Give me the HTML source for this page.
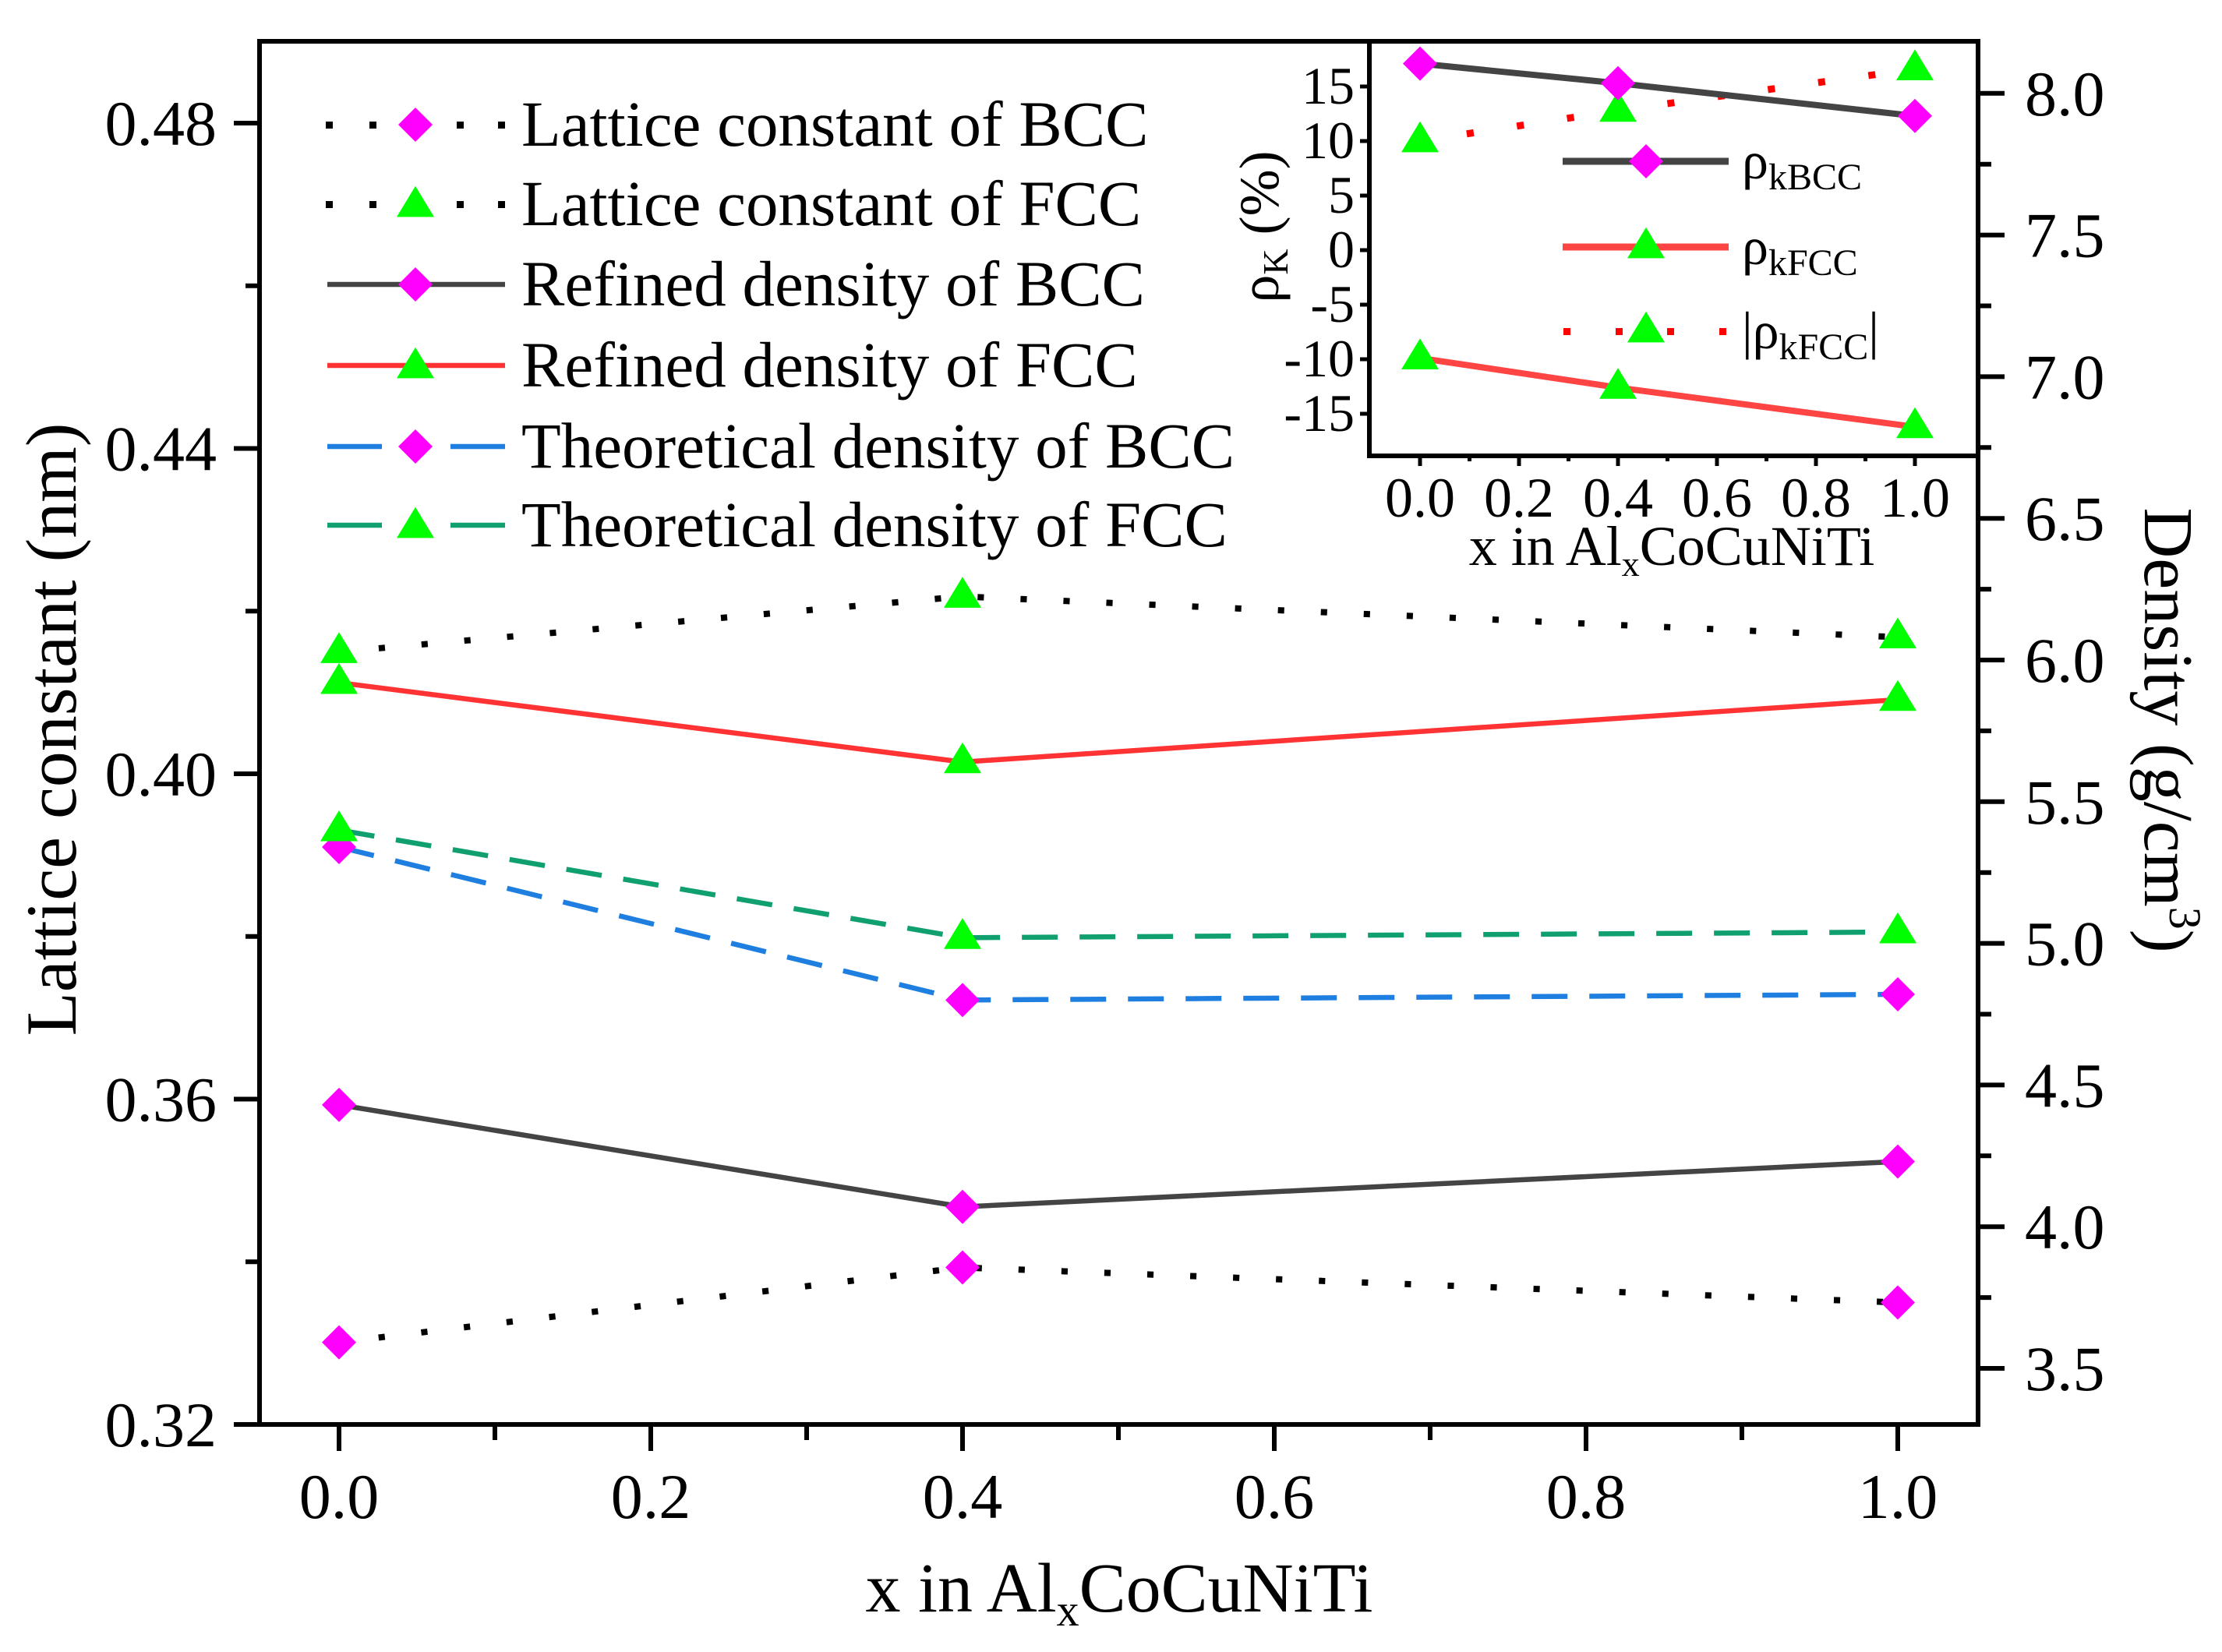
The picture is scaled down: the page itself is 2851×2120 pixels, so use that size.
<!DOCTYPE html>
<html><head><meta charset="utf-8"><style>
html,body{margin:0;padding:0;background:#fff;}
svg{display:block;font-family:"Liberation Serif",serif;}
</style></head><body>
<svg id="chart" width="2851" height="2120" viewBox="0 0 2851 2120" xmlns="http://www.w3.org/2000/svg">
<g id="main"></g>
<g id="inset"></g>
</svg>
<script>
// main chart data
const xCats = [0, 0.4, 1.0];
const latticeBCC = [0.3301, 0.3393, 0.3350];
const latticeFCC = [0.4150, 0.4218, 0.4168];
const refinedBCC = [4.43, 4.07, 4.23];
const refinedFCC = [5.92, 5.64, 5.86];
const theoBCC = [5.34, 4.80, 4.82];
const theoFCC = [5.40, 5.02, 5.04];
const xTicks = ["0.0","0.2","0.4","0.6","0.8","1.0"];
const leftTicks = ["0.32","0.36","0.40","0.44","0.48"];
const rightTicks = ["3.5","4.0","4.5","5.0","5.5","6.0","6.5","7.0","7.5","8.0"];
// inset data
const rhoBCC = [17.1, 15.3, 12.3];
const rhoFCC = [-9.9, -12.6, -16.2];
const rhoFCCabs = [10.0, 12.8, 16.6];
const insetYTicks = ["-15","-10","-5","0","5","10","15"];
const insetXTicks = ["0.0","0.2","0.4","0.6","0.8","1.0"];

const NS = "http://www.w3.org/2000/svg";
function mk(parent, tag, attrs, text){
  const e = document.createElementNS(NS, tag);
  for (const k in attrs) e.setAttribute(k, attrs[k]);
  if (text !== undefined) e.textContent = text;
  parent.appendChild(e);
  return e;
}
const X = v => 435 + v * 2000;
const YL = v => 1828 - (v - 0.32) * 10437.5;
const YR = v => 1756 - (v - 3.5) * 363.6;
const IX = v => 1822 + v * 635;
const IY = v => 321 - v * 14;

const main = document.getElementById('main');
const inset = document.getElementById('inset');

function diamond(g, cx, cy, r, name){
  const p = mk(g, 'polygon', {points:`${cx},${cy-r} ${cx+r},${cy} ${cx},${cy+r} ${cx-r},${cy}`, fill:'#ff00ff'});
  
  
  return p;
}
function tri(g, cx, cy, r, name){
  const p = mk(g, 'polygon', {points:`${cx},${cy-r*1.05} ${cx+r},${cy+r*0.6} ${cx-r},${cy+r*0.6}`, fill:'#00ff00'});
  
  
  return p;
}
function series(g, vals, sx, sy, stroke, dash, width, marker, r, name, cap){
  const pts = vals.map((v,i)=>`${sx(xCats[i])},${sy(v)}`).join(' ');
  const l = mk(g, 'polyline', {points:pts, fill:'none', stroke:stroke, 'stroke-width':width, 'stroke-dasharray':dash, 'stroke-linecap': cap||'butt'});
  
  
  vals.forEach((v,i)=>{
    if (marker==='d') diamond(g, sx(xCats[i]), sy(v), r, name + '-point');
    else tri(g, sx(xCats[i]), sy(v), r, name + '-point');
  });
}

series(main, latticeBCC, X, YL, '#000', '0.1 55', 8, 'd', 22, 'lattice-bcc', 'square');
series(main, latticeFCC, X, YL, '#000', '0.1 55', 8, 't', 24, 'lattice-fcc', 'square');
series(main, refinedBCC, X, YR, '#444', 'none', 6.5, 'd', 22, 'refined-bcc');
series(main, refinedFCC, X, YR, '#ff3333', 'none', 6.5, 't', 24, 'refined-fcc');
series(main, theoBCC, X, YR, '#1e7fe0', '46 28', 6.5, 'd', 22, 'theoretical-bcc');
series(main, theoFCC, X, YR, '#10a070', '46 28', 6.5, 't', 24, 'theoretical-fcc');

const frame = mk(main, 'rect', {x:333, y:53, width:2205, height:1775, fill:'none', stroke:'#000', 'stroke-width':6});



const gx = mk(main, 'g', {});


for (let i=0;i<=10;i++){
  const v = i*0.1;
  mk(gx, 'line', {x1:X(v), x2:X(v), y1:1828, y2: i%2===0?1862:1848, stroke:'#000','stroke-width':6});
}
xTicks.forEach((t,i)=>{
  const e = mk(gx, 'text', {x:X(i*0.2), y:1948, 'font-size':82, 'text-anchor':'middle'}, t);
  
  
});
const xt = mk(gx, 'text', {x:1436, y:2068, 'font-size':90, 'text-anchor':'middle'});


xt.innerHTML = 'x in Al<tspan dy="18" font-size="58">x</tspan><tspan dy="-18">CoCuNiTi</tspan>';

const gl = mk(main, 'g', {});


for (let i=0;i<=8;i++){
  const v = 0.32 + i*0.02;
  mk(gl, 'line', {x1:333, x2: i%2===0?300:315, y1:YL(v), y2:YL(v), stroke:'#000','stroke-width':6});
}
leftTicks.forEach((t,i)=>{
  const e = mk(gl, 'text', {x:278, y:YL(0.32+i*0.04)+28, 'font-size':82, 'text-anchor':'end'}, t);
  
  
});
const lt = mk(gl, 'text', {x:0, y:0, 'font-size':92, 'text-anchor':'middle', transform:'translate(97,936) rotate(-90)'}, 'Lattice constant (nm)');



const gr = mk(main, 'g', {});


for (let i=-1;i<=19;i++){
  const v = 3.5 + i*0.25;
  const y = YR(v);
  if (y > 1828 || y < 53) continue;
  mk(gr, 'line', {x1:2538, x2: (i%2===0)?2572:2555, y1:y, y2:y, stroke:'#000','stroke-width':6});
}
rightTicks.forEach((t,i)=>{
  const e = mk(gr, 'text', {x:2598, y:YR(3.5+i*0.5)+28, 'font-size':82, 'text-anchor':'start'}, t);
  
  
});
const rt = mk(gr, 'text', {x:0, y:0, 'font-size':90, 'text-anchor':'middle', transform:'translate(2752,937) rotate(90)'});


rt.innerHTML = 'Density (g/cm<tspan dy="-32" font-size="58">3</tspan><tspan dy="32">)</tspan>';

const legendItems = [
  ['Lattice constant of BCC','#000','dot',8,'d'],
  ['Lattice constant of FCC','#000','dot',8,'t'],
  ['Refined density of BCC','#444','none',6.5,'d'],
  ['Refined density of FCC','#ff3333','none',6.5,'t'],
  ['Theoretical density of BCC','#1e7fe0','dash',6.5,'d'],
  ['Theoretical density of FCC','#10a070','dash',6.5,'t']
];
const legY = [160, 262, 365, 469, 573, 674];
const gleg = mk(main, 'g', {});


legendItems.forEach((it,i)=>{
  const g = mk(gleg, 'g', {});
  
  
  const y = legY[i];
  if (it[2]==='dot') {
    [422,478,590,643].forEach(x=>mk(g,'rect',{x:x-4,y:y-4,width:9,height:9,fill:'#000'}));
  } else if (it[2]==='dash') {
    mk(g, 'line', {x1:420, x2:490, y1:y, y2:y, stroke:it[1], 'stroke-width':it[3]});
    mk(g, 'line', {x1:578, x2:648, y1:y, y2:y, stroke:it[1], 'stroke-width':it[3]});
  } else {
    mk(g, 'line', {x1:420, x2:648, y1:y, y2:y, stroke:it[1], 'stroke-width':it[3]});
  }
  if (it[4]==='d') diamond(g, 533, y, 22, 'legend-marker'); else tri(g, 533, y+2, 24, 'legend-marker');
  mk(g, 'text', {x:669, y:y+27, 'font-size':83}, it[0]);
});

const iframe = mk(inset, 'rect', {x:1757, y:53, width:781, height:532, fill:'#fff', stroke:'#000', 'stroke-width':6});


series(inset, rhoFCCabs, IX, IY, '#ff0000', '0.1 65', 9, 't', 24, 'inset-abs-rho-fcc', 'square');
series(inset, rhoBCC, IX, IY, '#444', 'none', 8, 'd', 22, 'inset-rho-bcc');
series(inset, rhoFCC, IX, IY, '#ff4444', 'none', 8, 't', 24, 'inset-rho-fcc');
insetYTicks.forEach((t,i)=>{
  const v = -15 + i*5;
  mk(inset, 'line', {x1:1757, x2:1745, y1:IY(v), y2:IY(v), stroke:'#000','stroke-width':5});
  const e = mk(inset, 'text', {x:1738, y:IY(v)+22, 'font-size':68, 'text-anchor':'end'}, t);
  
  
});
for (let i=0;i<=10;i++){
  const v = i*0.1;
  mk(inset, 'line', {x1:IX(v), x2:IX(v), y1:585, y2: i%2===0?598:592, stroke:'#000','stroke-width':5});
}
insetXTicks.forEach((t,i)=>{
  const e = mk(inset, 'text', {x:IX(i*0.2), y:663, 'font-size':72, 'text-anchor':'middle'}, t);
  
  
});
const ixt = mk(inset, 'text', {x:2145, y:725, 'font-size':72, 'text-anchor':'middle'});


ixt.innerHTML = 'x in Al<tspan dy="14" font-size="46">x</tspan><tspan dy="-14">CoCuNiTi</tspan>';
const iyt = mk(inset, 'text', {x:0, y:0, 'font-size':72, 'text-anchor':'middle', transform:'translate(1640,291) rotate(-90)'});


iyt.innerHTML = 'ρ<tspan dy="12" font-size="46">K</tspan><tspan dy="-12"> (%)</tspan>';
const ileg = mk(inset, 'g', {});


const ilegY = [207, 317, 425];
const ilegLabels = ['kBCC','kFCC','kFCC'];
ilegY.forEach((y,i)=>{
  const g = mk(ileg, 'g', {});
  
  
  if (i===0) mk(g,'line',{x1:2005,x2:2218,y1:y,y2:y,stroke:'#444','stroke-width':9});
  if (i===1) mk(g,'line',{x1:2005,x2:2218,y1:y,y2:y,stroke:'#ff4444','stroke-width':9});
  if (i===2) [2010,2077,2143,2210].forEach(x=>mk(g,'rect',{x:x-4,y:y-4,width:9,height:9,fill:'#ff0000'}));
  if (i===0) diamond(g, 2112, y, 22, 'inset-legend-marker'); else tri(g, 2112, y, 24, 'inset-legend-marker');
  const t = mk(g, 'text', {x:2235, y:y+22, 'font-size':68});
  t.innerHTML = (i===2?'|':'') + 'ρ<tspan dy="14" font-size="48">' + ilegLabels[i] + '</tspan>' + (i===2?'<tspan dy="-14">|</tspan>':'');
});
</script>
</body></html>
